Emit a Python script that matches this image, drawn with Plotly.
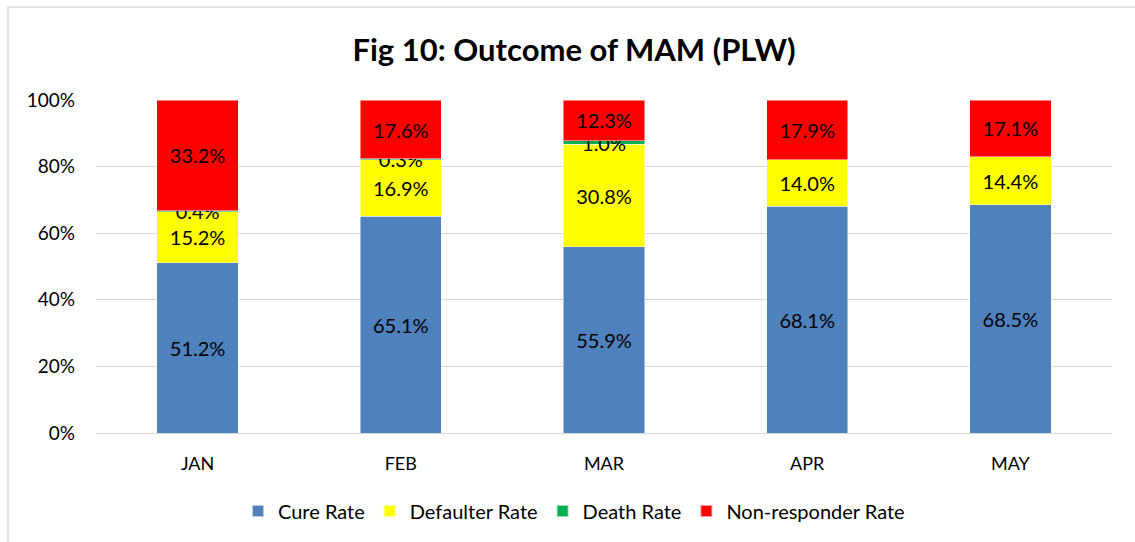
import plotly.graph_objects as go

months = ["JAN", "FEB", "MAR", "APR", "MAY"]
cure_rate = [51.2, 65.1, 55.9, 68.1, 68.5]
defaulter_rate = [15.2, 16.9, 30.8, 14.0, 14.4]
death_rate = [0.4, 0.3, 1.0, 0.0, 0.0]
nonresponder_rate = [33.2, 17.6, 12.3, 17.9, 17.1]
y_tick_values = [0, 20, 40, 60, 80, 100]
y_tick_labels = ["0%", "20%", "40%", "60%", "80%", "100%"]

series = [
    ("Cure Rate", cure_rate, "#4F81BD"),
    ("Defaulter Rate", defaulter_rate, "#FFFF00"),
    ("Death Rate", death_rate, "#00B050"),
    ("Non-responder Rate", nonresponder_rate, "#FF0000"),
]

FONT = "Lato, 'Liberation Sans', sans-serif"

fig = go.Figure()
for name, vals, color in series:
    fig.add_trace(go.Bar(
        name=name,
        x=months,
        y=vals,
        marker=dict(color=color, line=dict(color="rgba(255,255,255,0.6)", width=0.8)),
        text=[f"{v:.1f}%" if v > 0 else "" for v in vals],
        textposition="inside",
        insidetextanchor="middle",
        constraintext="none",
        textangle=0,
        textfont=dict(family=FONT, size=20, color="#000000"),
        hoverinfo="name+y",
    ))

W, H = 1135, 542
L, R, T, B = 96, 1112, 100, 433
pw, ph = R - L, B - T

def px_x(p):
    return (p - L) / pw

def px_y(p):
    return (B - p) / ph

fig.update_layout(
    width=W, height=H,
    margin=dict(l=L, r=W - R, t=T, b=H - B, pad=0),
    barmode="stack",
    bargap=0.6,
    paper_bgcolor="white",
    plot_bgcolor="white",
    font=dict(family=FONT, size=16, color="#000000"),
    title=dict(
        text="<b>Fig 10: Outcome of MAM (PLW)</b>",
        x=574 / W, xanchor="center",
        y=1 - 50 / H, yanchor="middle",
        font=dict(family=FONT, size=31, color="#000000"),
    ),
    showlegend=True,
    legend=dict(
        orientation="h",
        x=px_x(574), xanchor="center",
        y=px_y(511), yanchor="middle",
        font=dict(family=FONT, size=20, color="#000000"),
        traceorder="normal",
        itemwidth=30,
        itemsizing="constant",
    ),
    xaxis=dict(
        showgrid=False,
        showline=False,
        ticks="",
        ticklabelstandoff=18,
        tickfont=dict(family=FONT, size=18),
    ),
    yaxis=dict(
        range=[0, 100],
        tickmode="array",
        tickvals=y_tick_values,
        ticktext=y_tick_labels,
        showgrid=True,
        gridcolor="#D9D9D9",
        gridwidth=1.3,
        zeroline=True,
        zerolinecolor="#D9D9D9",
        zerolinewidth=1.3,
        showline=False,
        ticks="",
        ticklabelstandoff=20,
        tickfont=dict(family=FONT, size=19),
    ),
    shapes=[dict(
        type="rect", xref="paper", yref="paper",
        x0=px_x(8), x1=px_x(1145), y0=px_y(560), y1=px_y(7),
        line=dict(color="#D9D9D9", width=1.5),
        fillcolor="rgba(0,0,0,0)",
        layer="below",
    )],
)

fig.write_html(
    "out.html",
    config={"displayModeBar": False},
    post_script="document.body.style.margin='0';document.body.style.overflow='hidden';",
)
